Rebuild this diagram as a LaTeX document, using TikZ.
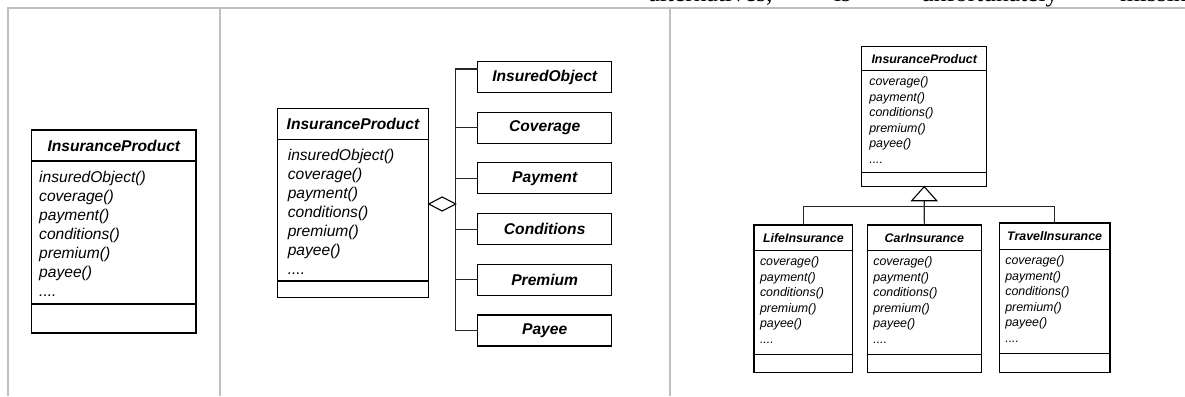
\documentclass[tikz,border=0pt]{standalone}
\usepackage{fontspec}
\newfontfamily\umlsans{Liberation Sans}
\newfontfamily\bodyserif{Liberation Serif}
\usetikzlibrary{shapes.geometric}

% size presets for class boxes: title font, operation font,
% first baseline below the title rule, line pitch
\newcommand\setbig{%
  \def\umltitlefont{\umlsans\bfseries\itshape\fontsize{15.6}{18}\selectfont}%
  \def\umlopfont{\umlsans\itshape\fontsize{15.6}{18}\selectfont}%
  \def\umlfirst{21}\def\umldy{19}}
\newcommand\setsmall{%
  \def\umltitlefont{\umlsans\bfseries\itshape\fontsize{12.4}{14}\selectfont}%
  \def\umlopfont{\umlsans\itshape\fontsize{12.4}{14}\selectfont}%
  \def\umlfirst{15.2}\def\umldy{15.5}}
\newcommand\opdots{....}

\tikzset{
  classpart/.style={draw=black, line width=1.1pt, fill=white, inner sep=0pt, outer sep=0pt},
  optext/.style={inner sep=0pt, outer sep=0pt, font=\umlopfont},
  partbox/.style={classpart, font=\umltitlefont, minimum width=134pt, minimum height=31pt},
  link/.style={draw=black!85, line width=1.1pt},
  aggdiamond/.style={diamond, draw=black, line width=1.1pt, fill=white, inner sep=0pt,
    outer sep=0pt, minimum width=27pt, minimum height=14pt},
  frame/.style={draw=black!25, line width=2pt},
  toptext/.style={inner sep=0pt, outer sep=0pt, font=\bodyserif\fontsize{25.5}{30}\selectfont}
}

% #1 name, #2 top-left corner, #3 width, #4 title height, #5 operations height,
% #6 bottom compartment height, #7 class name, #8 operations, #9 text inset
\newcommand\umlclass[9]{%
  \node[classpart, minimum width=#3, minimum height=#4, anchor=north west,
        font=\umltitlefont] (#1) at #2 {#7};
  \node[classpart, minimum width=#3, minimum height=#5, anchor=north] (#1-ops) at (#1.south) {};
  \node[classpart, minimum width=#3, minimum height=#6, anchor=north] (#1-end) at (#1-ops.south) {};
  \foreach \op [count=\k from 0] in {#8}
    \node[optext, anchor=base west] (#1-op\k)
      at ([xshift=#9, yshift={-(\umlfirst+\k*\umldy)}]#1-ops.north west) {\op};
}

\begin{document}
\begin{tikzpicture}[x=1pt, y=-1pt]
\useasboundingbox (0,0) rectangle (1185,396);
\clip (0,0) rectangle (1185,396);

% running text of the page above the figure
\node[toptext, anchor=base west] (w1) at (648.5,2) {alternatives,};
\node[toptext, anchor=base west] (w2) at (834,2) {is};
\node[toptext, anchor=base west] (w3) at (921,2) {unfortunately};
\node[toptext, anchor=base west] (w4) at (1120,2) {missing};

% table rules
\draw[frame] (8,396) -- (8,8) -- (1185,8);
\draw[frame] (220,8) -- (220,396);
\draw[frame] (670,8) -- (670,396);

% first column: one monolithic class
\setbig
\umlclass{lp}{(31.7,130)}{164.3}{31}{143}{29}{InsuranceProduct}
  {insuredObject(),coverage(),payment(),conditions(),premium(),payee(),\opdots}{7.5}

% second column: aggregation of parts
\umlclass{cp}{(277.3,108.3)}{151.4}{31}{141.7}{16.3}{InsuranceProduct}
  {insuredObject(),coverage(),payment(),conditions(),premium(),payee(),\opdots}{10.5}

\node[partbox, anchor=north west] (io)   at (477.7,61.5)  {InsuredObject};
\node[partbox, anchor=north west] (cov)  at (477.7,112.2) {Coverage};
\node[partbox, anchor=north west] (pay)  at (477.7,162.9) {Payment};
\node[partbox, anchor=north west] (cond) at (477.7,213.6) {Conditions};
\node[partbox, anchor=north west] (prem) at (477.7,264.3) {Premium};
\node[partbox, anchor=north west] (pye)  at (477.7,315)   {Payee};

\node[aggdiamond, anchor=west] (agg) at (428.7,204) {};
\draw[link] (agg.east) |- ([yshift=8pt]io.west);
\draw[link] (agg.east) |- (cov.west);
\draw[link] (agg.east) |- (pay.west);
\draw[link] (agg.east) |- (cond.west);
\draw[link] (agg.east) |- (prem.west);
\draw[link] (agg.east) |- (pye.west);

% third column: generalisation
\setsmall
\umlclass{ip}{(861.7,46.7)}{125}{24}{101.6}{14.4}{InsuranceProduct}
  {coverage(),payment(),conditions(),premium(),payee(),\opdots}{7.6}
\umlclass{life}{(754,225)}{98.7}{25.7}{103.6}{18.4}{LifeInsurance}
  {coverage(),payment(),conditions(),premium(),payee(),\opdots}{6}
\umlclass{car}{(867.3,225)}{114}{25.7}{103.6}{18.4}{CarInsurance}
  {coverage(),payment(),conditions(),premium(),payee(),\opdots}{6}
\umlclass{trav}{(999.3,223)}{110.7}{26.7}{104}{19}{TravelInsurance}
  {coverage(),payment(),conditions(),premium(),payee(),\opdots}{6}

\coordinate (tribase) at ([yshift=-14pt]ip-end.south);
\coordinate (bus) at (924.3,206.7);
\draw[link] (tribase) -- (car.north);
\draw[link] (life.north) |- (bus) -| (trav.north);
\draw[link, draw=black, fill=white] (ip-end.south) -- ([xshift=-12.5pt]tribase)
  -- ([xshift=12.5pt]tribase) -- cycle;
\end{tikzpicture}
\end{document}
